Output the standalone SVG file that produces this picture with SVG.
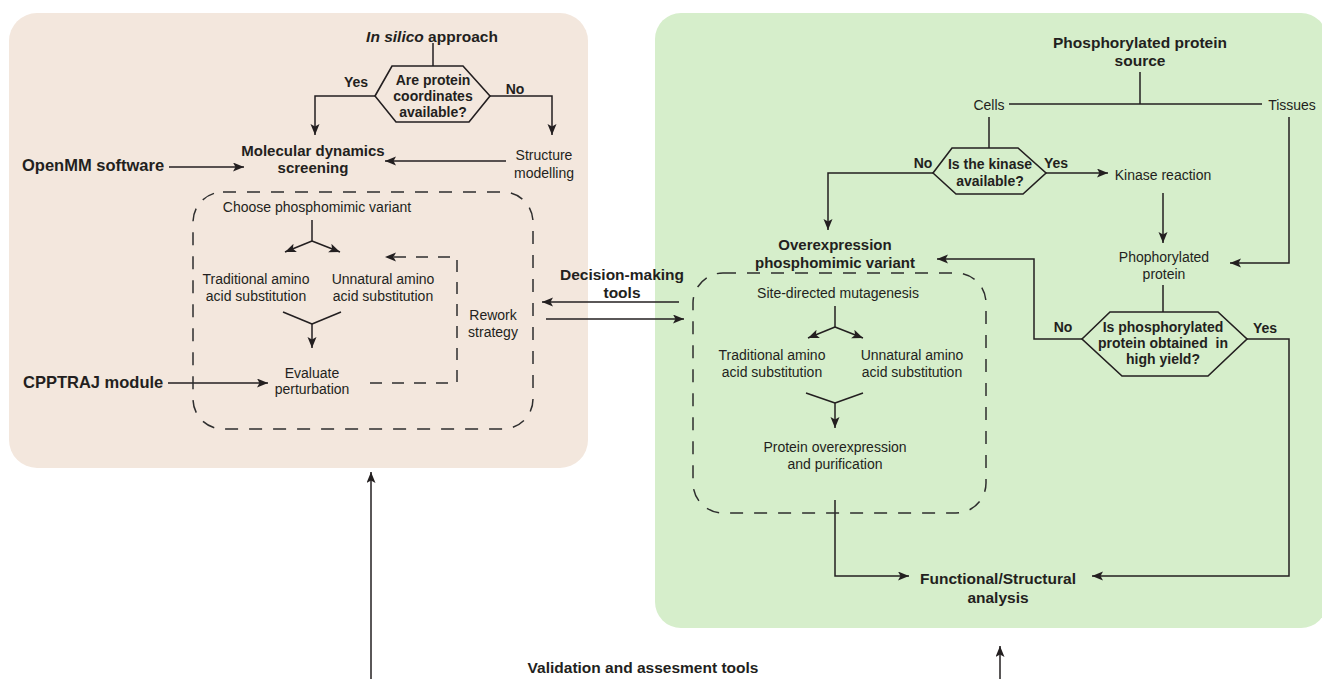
<svg xmlns="http://www.w3.org/2000/svg" width="1322" height="679" viewBox="0 0 1322 679">
<defs>
<marker id="ah" markerWidth="12" markerHeight="10" refX="11" refY="4.5" orient="auto" markerUnits="userSpaceOnUse">
<path d="M0,0 L11,4.5 L0,9 L2.5,4.5 z" fill="#231f20"/>
</marker>
<style>
text{font-family:"Liberation Sans",Arial,sans-serif;fill:#231f20;text-anchor:middle}
.r{font-size:14px}
.b{font-size:14px;font-weight:bold}
.h{font-size:15.5px;font-weight:bold}
.hs{font-size:15px;font-weight:bold}
.big{font-size:16.5px;font-weight:bold;text-anchor:start}
.ln{fill:none;stroke:#231f20;stroke-width:1.5}
.ar{fill:none;stroke:#231f20;stroke-width:1.5;marker-end:url(#ah)}
.dbox{fill:none;stroke:#2e2e2e;stroke-width:1.5;stroke-dasharray:13 11}
.dar{fill:none;stroke:#2e2e2e;stroke-width:1.5;stroke-dasharray:12 10;marker-end:url(#ah)}
.hex{fill:none;stroke:#231f20;stroke-width:1.6}
</style>
</defs>
<rect id="panel-left" x="9" y="13" width="579" height="455" rx="28" fill="#f3e7dd"/>
<rect id="panel-right" x="655" y="13" width="672" height="615" rx="26" fill="#d6eecb"/>

<g id="connectors">
<line class="ln" x1="433" y1="43" x2="433" y2="66"/>
<path class="ar" d="M375,96 H315 V135"/>
<path class="ar" d="M490,96 H552 V135"/>
<path class="ar" d="M169,167 H244"/>
<path class="ar" d="M506,161 H385"/>
<line class="ln" x1="312" y1="220" x2="312" y2="241"/>
<path class="ar" d="M312,241 L285,252"/>
<path class="ar" d="M312,241 L340,252"/>
<line class="ln" x1="283" y1="312" x2="312" y2="324"/>
<line class="ln" x1="341" y1="312" x2="312" y2="324"/>
<path class="ar" d="M312,324 V348"/>
<path class="ar" d="M168,383 H268"/>
<path class="dar" d="M370,383 H457 V257 H385"/>
<path class="ar" d="M679,302 H542"/>
<path class="ar" d="M546,319 H684"/>
<line class="ln" x1="1140" y1="72" x2="1140" y2="104"/>
<line class="ln" x1="1009" y1="104" x2="1262" y2="104"/>
<line class="ln" x1="989" y1="117" x2="989" y2="148"/>
<path class="ar" d="M1046,173 H1108"/>
<path class="ar" d="M933,173 H828 V230"/>
<path class="ar" d="M1163,193 V243"/>
<path class="ar" d="M1289,117 V263 H1230"/>
<line class="ln" x1="1163" y1="285" x2="1163" y2="312"/>
<path class="ar" d="M1082,339 H1034 V259 H937"/>
<path class="ar" d="M1247,339 H1289 V576 H1092"/>
<line class="ln" x1="835" y1="306" x2="835" y2="327"/>
<path class="ar" d="M835,327 L808,338"/>
<path class="ar" d="M835,327 L863,338"/>
<line class="ln" x1="806" y1="393" x2="835" y2="403"/>
<line class="ln" x1="863" y1="393" x2="835" y2="403"/>
<path class="ar" d="M835,403 V428"/>
<path class="ar" d="M835,500 V576 H909"/>
<path class="ar" d="M371,679 V472"/>
<path class="ar" d="M1000,679 V646"/>
</g>

<g id="insilico-title"><text class="h" x="432" y="41.5"><tspan font-style="italic">In silico</tspan> approach</text></g>
<g id="decision-coords">
<polygon class="hex" points="375,96 392,66 463,66 490,96 469,122 396,122"/>
<text class="b" x="433" y="85">Are protein</text>
<text class="b" x="433" y="101">coordinates</text>
<text class="b" x="433" y="117">available?</text>
<text class="b" x="356" y="87">Yes</text>
<text class="b" x="515" y="94">No</text>
</g>
<g id="md-screening"><text class="hs" x="313" y="155.5">Molecular dynamics</text><text class="hs" x="313" y="172.5">screening</text></g>
<g id="openmm"><text class="big" x="22" y="171">OpenMM software</text></g>
<g id="structure-modelling"><text class="r" x="544" y="160">Structure</text><text class="r" x="544" y="178">modelling</text></g>
<g id="left-box">
<path class="dbox" d="M223,192 H503 A30,30 0 0 1 533,222 V399 A30,30 0 0 1 503,429 H223 A30,30 0 0 1 193,399 V222 A30,30 0 0 1 223,192 Z"/>
<text class="r" x="317" y="212">Choose phosphomimic variant</text>
<text class="r" x="256" y="284">Traditional amino</text>
<text class="r" x="256" y="301">acid substitution</text>
<text class="r" x="383" y="284">Unnatural amino</text>
<text class="r" x="383" y="301">acid substitution</text>
<text class="r" x="312" y="378">Evaluate</text>
<text class="r" x="312" y="394">perturbation</text>
</g>
<g id="rework"><text class="r" x="493" y="320">Rework</text><text class="r" x="493" y="337">strategy</text></g>
<g id="cpptraj"><text class="big" x="23" y="388">CPPTRAJ module</text></g>
<g id="decision-tools"><text class="h" x="622" y="279.5">Decision-making</text><text class="h" x="622" y="297.5">tools</text></g>

<g id="source"><text class="h" x="1140" y="47.5">Phosphorylated protein</text><text class="h" x="1140" y="65.5">source</text></g>
<g id="cells"><text class="r" x="989" y="110">Cells</text></g>
<g id="tissues"><text class="r" x="1292" y="110">Tissues</text></g>
<g id="decision-kinase">
<polygon class="hex" points="933,173 952,148 1018,148 1046,173 1023,194 956,194"/>
<text class="b" x="990" y="169">Is the kinase</text>
<text class="b" x="990" y="186">available?</text>
<text class="b" x="923" y="168">No</text>
<text class="b" x="1056" y="168">Yes</text>
</g>
<g id="kinase-reaction"><text class="r" x="1163" y="180">Kinase reaction</text></g>
<g id="phospho-protein"><text class="r" x="1164" y="262">Phophorylated</text><text class="r" x="1164" y="279">protein</text></g>
<g id="decision-yield">
<polygon class="hex" points="1082,339 1110,312 1218,312 1247,339 1208,376 1122,376"/>
<text class="b" x="1163" y="332">Is phosphorylated</text>
<text class="b" x="1163" y="348" xml:space="preserve">protein obtained  in</text>
<text class="b" x="1163" y="364">high yield?</text>
<text class="b" x="1063" y="332">No</text>
<text class="b" x="1265" y="333">Yes</text>
</g>
<g id="overexpression"><text class="hs" x="835" y="249.5">Overexpression</text><text class="hs" x="835" y="267.5">phosphomimic variant</text></g>
<g id="right-box">
<path class="dbox" d="M723,273 H956 A30,30 0 0 1 986,303 V483 A30,30 0 0 1 956,513 H723 A30,30 0 0 1 693,483 V303 A30,30 0 0 1 723,273 Z"/>
<text class="r" x="838" y="298">Site-directed mutagenesis</text>
<text class="r" x="772" y="360">Traditional amino</text>
<text class="r" x="772" y="377">acid substitution</text>
<text class="r" x="912" y="360">Unnatural amino</text>
<text class="r" x="912" y="377">acid substitution</text>
<text class="r" x="835" y="452">Protein overexpression</text>
<text class="r" x="835" y="469">and purification</text>
</g>
<g id="functional"><text class="h" x="998" y="583.5">Functional/Structural</text><text class="h" x="998" y="602.5">analysis</text></g>
<g id="validation"><text class="h" x="643" y="672.5">Validation and assesment tools</text></g>
</svg>
